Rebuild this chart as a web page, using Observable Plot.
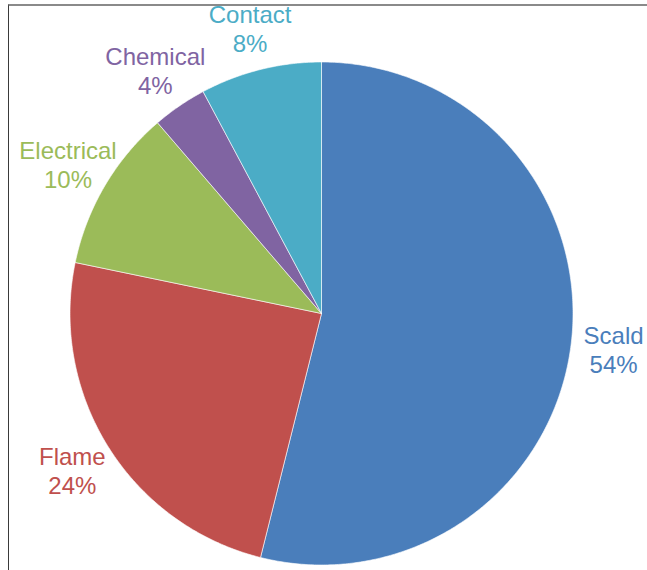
<!DOCTYPE html>
<html>
<head>
<meta charset="utf-8">
<script src="https://cdn.jsdelivr.net/npm/d3@7"></script>
<script src="https://cdn.jsdelivr.net/npm/@observablehq/plot@0.6"></script>
<style>
  html, body { margin: 0; padding: 0; background: #fff; }
  #wrap { position: relative; width: 647px; height: 570px; overflow: hidden; }
  #frame { position: absolute; left: 8px; top: 4px; width: 700px; height: 700px;
           border-top: 2px solid #8a8a8a; border-left: 1.5px solid #3a3a3a; box-sizing: border-box; }
  #chart { position: absolute; left: 0; top: 0; }
</style>
</head>
<body>
<div id="wrap"><div id="frame"></div><div id="chart"></div></div>
<script>
const categories = ["Scald", "Flame", "Electrical", "Chemical", "Contact"];
const shares = [53.9, 24.35, 10.45, 3.5, 7.8];
const colors = ["#4A7EBB", "#C0504D", "#9BBB59", "#8064A2", "#4BACC6"];

const W = 647, H = 570;
const cx = 321, cy = 313, R = 251.5;
const labelRadius = 1.17;

const arcs = d3.pie().sort(null).value(d => d.value).startAngle(0).endAngle(2 * Math.PI)(
  categories.map((c, i) => ({category: c, value: shares[i]}))
);

const slicePts = [];
for (const a of arcs) {
  const cat = a.data.category;
  slicePts.push({category: cat, x: 0, y: 0});
  const n = Math.max(2, Math.ceil((a.endAngle - a.startAngle) / (Math.PI / 360)));
  for (let k = 0; k <= n; k++) {
    const t = a.startAngle + (a.endAngle - a.startAngle) * k / n;
    slicePts.push({category: cat, x: Math.sin(t), y: Math.cos(t)});
  }
  slicePts.push({category: cat, x: 0, y: 0});
}

const labels = arcs.map(a => {
  const m = (a.startAngle + a.endAngle) / 2;
  return {
    category: a.data.category,
    x: labelRadius * Math.sin(m),
    y: labelRadius * Math.cos(m),
    text: `${a.data.category}\n${Math.round(a.data.value)}%`
  };
});

const chart = Plot.plot({
  width: W,
  height: H,
  margin: 0,
  x: {domain: [-cx / R, (W - cx) / R], axis: null},
  y: {domain: [-(H - cy) / R, cy / R], axis: null},
  color: {domain: categories, range: colors},
  style: {fontFamily: "'Liberation Sans', Arial, sans-serif", background: "transparent", overflow: "visible"},
  marks: [
    Plot.line(slicePts, {x: "x", y: "y", z: "category", fill: "category", stroke: "white", strokeWidth: 0.6, curve: "linear"}),
    Plot.text(labels, {x: "x", y: "y", text: "text", fill: "category", fontSize: 24, lineHeight: 1.2, lineAnchor: "middle", textAnchor: "middle"})
  ]
});
document.getElementById("chart").appendChild(chart);
</script>
</body>
</html>
